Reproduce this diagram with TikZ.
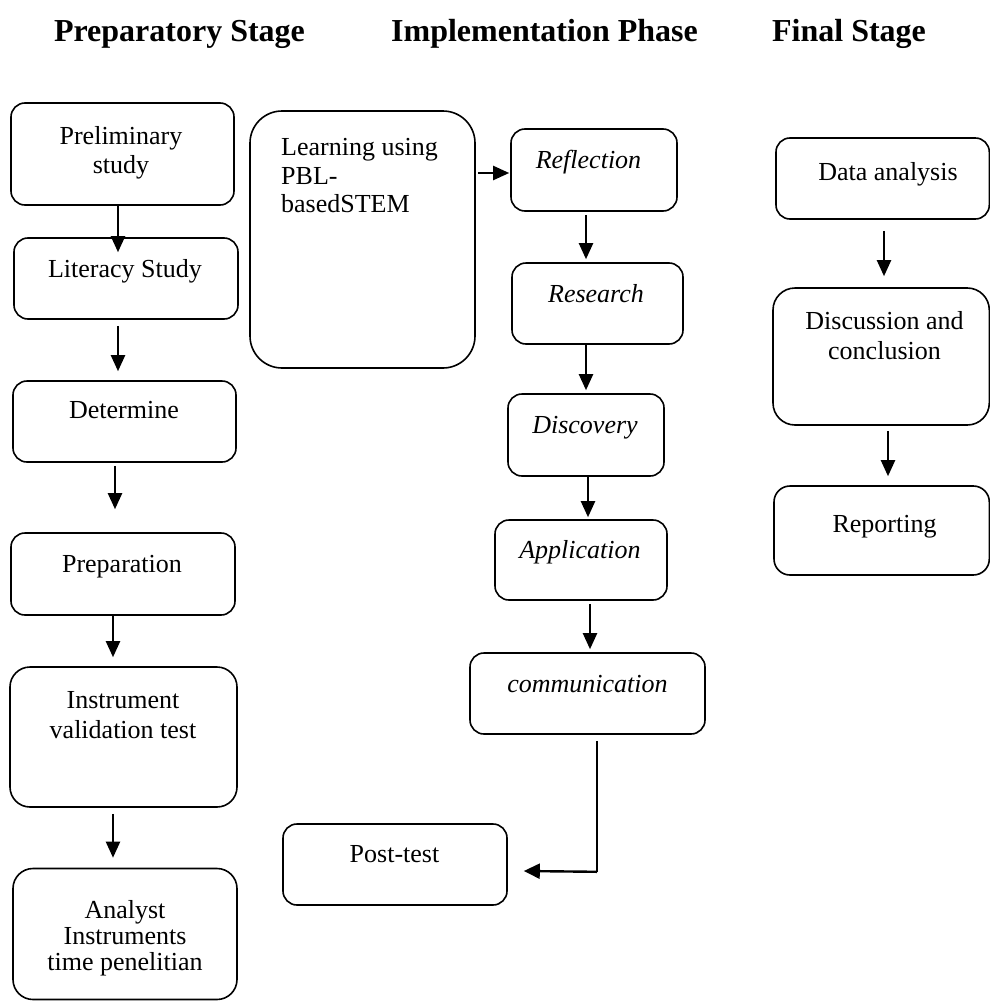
\documentclass[tikz,border=0pt]{standalone}
\usepackage{fontspec}
\setmainfont{Liberation Serif}
\usetikzlibrary{arrows.meta,calc}
\begin{document}
\begin{tikzpicture}[x=1pt,y=-1pt,
  box/.style={draw, line width=1.6pt, rounded corners=14pt, inner sep=0pt},
  arr/.style={line width=2.2pt, -{Triangle[length=16pt,width=14pt]}},
  thinline/.style={line width=1.1pt},
  txt/.style={font=\fontsize{26}{29}\selectfont, inner sep=0pt, align=center},
  itxt/.style={font=\fontsize{26}{29}\selectfont\itshape, inner sep=0pt, anchor=base},
  hdr/.style={font=\fontsize{32}{36}\selectfont\bfseries, inner sep=0pt, anchor=base}]
\useasboundingbox (0,0) rectangle (990,1001);

% headers
\node[hdr] (h1) at (179.5,41) {Preparatory Stage};
\node[hdr] (h2) at (544.5,41) {Implementation Phase};
\node[hdr] (h3) at (849,41) {Final Stage};

% left column
\node[box, minimum width=223pt, minimum height=102pt] (pre) at (122.5,154) {};
\node[box, minimum width=224pt, minimum height=81pt] (lit) at (126,278.5) {};
\node[box, minimum width=223pt, minimum height=81pt] (det) at (124.5,421.5) {};
\node[box, minimum width=224pt, minimum height=82pt] (prep) at (123,574) {};
\node[box, rounded corners=20pt, minimum width=227pt, minimum height=140pt] (ins) at (123.5,737) {};
\node[box, rounded corners=20pt, minimum width=224pt, minimum height=131pt] (ana) at (125,934) {};

\node[txt, anchor=north] (pre-t) at (121,126.2) {Preliminary\\study};
\node[txt, anchor=base] (lit-t) at (125,277) {Literacy Study};
\node[txt, anchor=base] (det-t) at (124,418) {Determine};
\node[txt, anchor=base] (prep-t) at (122,572) {Preparation};
\node[txt, anchor=north, font=\fontsize{26}{30}\selectfont] (ins-t) at (123,691.2) {Instrument\\validation test};
\node[txt, anchor=north, font=\fontsize{26}{26}\selectfont] (ana-t) at (125,900.2) {Analyst\\Instruments\\time penelitian};

\draw[arr] ($(pre.south)+(-4.5,0)$) -- ($(lit.north)+(-8,15)$);
\draw[arr] ($(lit.south)+(-8,6)$) -- ($(det.north)+(-6.5,-9)$);
\draw[arr] ($(det.south)+(-9.5,3)$) -- ($(prep.north)+(-8,-23)$);
\draw[arr] ($(prep.south)+(-10,0)$) -- ($(ins.north)+(-10.5,-9)$);
\draw[arr] ($(ins.south)+(-10.5,6)$) -- ($(ana.north)+(-12,-10)$);

% middle column
\node[box, rounded corners=32pt, minimum width=225pt, minimum height=257pt] (learn) at (362.5,239.5) {};
\node[txt, anchor=north west, align=left, font=\fontsize{26}{28.5}\selectfont] (learn-t) at (281,138.2) {Learning using\\PBL-\\basedSTEM};
\node[box, minimum width=166pt, minimum height=82pt] (refl) at (594,170) {};
\node[box, minimum width=171pt, minimum height=81pt] (res) at (597.5,303.5) {};
\node[box, minimum width=156pt, minimum height=82pt] (disc) at (586,435) {};
\node[box, minimum width=172pt, minimum height=80pt] (app) at (581,560) {};
\node[box, minimum width=235pt, minimum height=81pt] (comm) at (587.5,693.5) {};
\node[box, minimum width=224pt, minimum height=81pt] (post) at (395,864.5) {};

\node[itxt] (refl-t) at (588.5,168) {Reflection};
\node[itxt] (res-t) at (596,302) {Research};
\node[itxt] (disc-t) at (585,433) {Discovery};
\node[itxt] (app-t) at (580,558) {Application};
\node[itxt] (comm-t) at (587.5,692) {communication};
\node[txt, anchor=base] (post-t) at (394.5,862) {Post-test};

\draw[arr] ($(learn.east)+(2,-66.5)$) -- ($(refl.west)+(-1,3)$);
\draw[arr] ($(refl.south)+(-8,3)$) -- ($(res.north)+(-11.5,-3)$);
\draw[arr] ($(res.south)+(-11.5,0)$) -- ($(disc.north)+(0,-3)$);
\draw[arr] ($(disc.south)+(2,0)$) -- ($(app.north)+(7,-2)$);
\draw[arr] ($(app.south)+(9,3)$) -- ($(comm.north)+(2.5,-3)$);
\coordinate (cp) at ($(comm.south)+(9.5,137)$);
\draw[thinline] ($(comm.south)+(9.5,6)$) -- (cp);
\draw[line width=2.4pt, -{Triangle[length=16pt,width=15pt]}] (cp) -- ($(post.east)+(16,6.5)$);

% right column
\node[box, minimum width=213.3pt, minimum height=81pt] (data) at (882.65,178.5) {};
\node[box, rounded corners=22pt, minimum width=216.3pt, minimum height=137pt] (dis) at (881.15,356.5) {};
\node[box, rounded corners=16pt, minimum width=215.3pt, minimum height=89pt] (rep) at (881.65,530.5) {};

\node[txt, anchor=base] (data-t) at (888,180) {Data analysis};
\node[txt, anchor=north, font=\fontsize{26}{30}\selectfont] (dis-t) at (884.5,311.2) {Discussion and\\conclusion};
\node[txt, anchor=base] (rep-t) at (884.5,532) {Reporting};

\draw[arr] ($(data.south)+(1.35,11)$) -- ($(dis.north)+(2.85,-11)$);
\draw[arr] ($(dis.south)+(6.85,5)$) -- ($(rep.north)+(6.35,-9)$);
\end{tikzpicture}
\end{document}
